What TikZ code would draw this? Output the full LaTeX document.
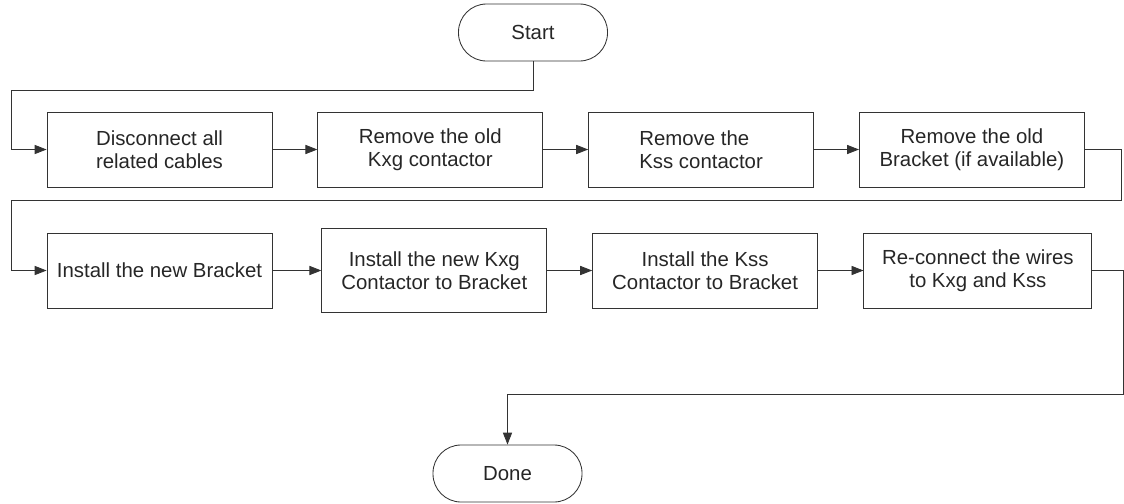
\documentclass[tikz,border=0pt]{standalone}
\usepackage{fontspec}
\setmainfont{Liberation Sans}
\usepackage{tikz}
\usetikzlibrary{shapes.geometric, arrows.meta}
\tikzstyle{startstop} = [rectangle, rounded corners=0.7cm, minimum width=3.725cm, minimum height=1.425cm, text centered, draw=black!80, line width=0.6pt, text=black!85, font=\fontsize{14.5}{16.5}\selectfont]
\tikzstyle{process} = [rectangle, minimum width=5.625cm, minimum height=1.875cm, text centered, align=center, draw=black!80, line width=0.6pt, text=black!85, font=\fontsize{14.5}{16.5}\selectfont]
\tikzstyle{arrow} = [line width=0.6pt, draw=black!80, -{Triangle[length=8.5pt,width=6.5pt]}]

\begin{document}
\begin{tikzpicture}[node distance=6.77cm]
        \useasboundingbox (0,0) rectangle (28.1,-12.575);
        \node (start) [startstop] at (13.325,-0.8125) {Start};

        % baris pertama
        \node (putus-kabel) [process, align=left] at (3.9875,-3.7375) {Disconnect all\\related cables};
        \node (lepas-kxg) [process, right of=putus-kabel] {Remove the old\\Kxg contactor};
        \node (lepas-kss) [process, right of=lepas-kxg, align=left] {Remove the\\Kss contactor};
        \node (lepas-braket) [process, right of=lepas-kss] {Remove the old\\Bracket (if available)};

        % baris kedua
        \node (pasang-braket) [process] at (3.9875,-6.7625) {Install the new Bracket};
        \node (pasang-kxg) [process, right of=pasang-braket, xshift=0.1cm, minimum height=2.1cm] {Install the new Kxg\\Contactor to Bracket};
        \node (pasang-kss) [process, right of=pasang-kxg] {Install the Kss\\Contactor to Bracket};
        \node (sambung-kabel) [process, right of=pasang-kss, xshift=0.05cm, minimum width=5.7cm] {Re-connect the wires\\to Kxg and Kss};

        \node (selesai) [startstop] at (12.6875,-11.8375) {Done};

        \coordinate (belok-a) at (0.275,-2.25);
        \coordinate (belok-b) at (28.025,-5.0);
        \coordinate (belok-c) at (0.275,-5.0);
        \coordinate (belok-d) at (28.075,-9.85);

        \draw [arrow] (start.south) |- (belok-a) |- (putus-kabel.west);
        \draw [arrow] (putus-kabel) -- (lepas-kxg);
        \draw [arrow] (lepas-kxg) -- (lepas-kss);
        \draw [arrow] (lepas-kss) -- (lepas-braket);
        \draw [arrow] (lepas-braket.east) -| (belok-b) -- (belok-c) |- (pasang-braket.west);
        \draw [arrow] (pasang-braket) -- (pasang-kxg);
        \draw [arrow] (pasang-kxg) -- (pasang-kss);
        \draw [arrow] (pasang-kss) -- (sambung-kabel);
        \draw [arrow] (sambung-kabel.east) -| (belok-d) -| (selesai.north);
    \end{tikzpicture}
\end{document}
